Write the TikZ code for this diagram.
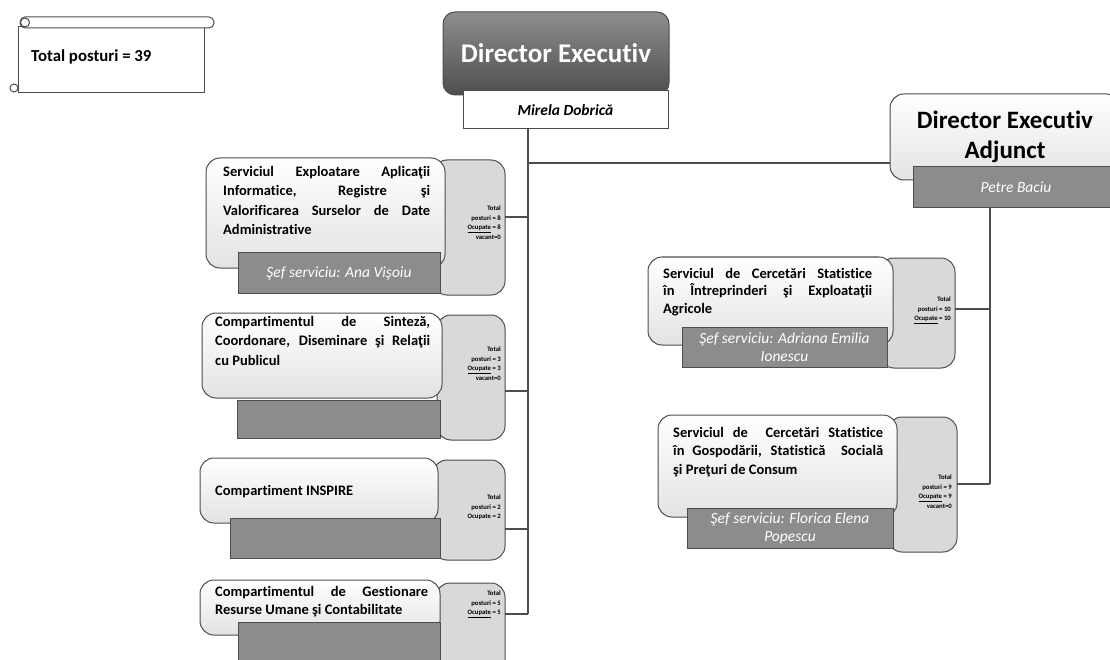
\documentclass[tikz,border=0pt]{standalone}
\usepackage{fontspec}
\setmainfont{Carlito}[Ligatures=NoCommon]
\definecolor{linegray}{HTML}{4D4D4D}
\definecolor{sidegray}{HTML}{D9D9D9}
\definecolor{bargray}{HTML}{8C8C8C}
\definecolor{boxfoot}{HTML}{E3E3E3}
\definecolor{dirtop}{HTML}{8E8E8E}
\definecolor{dirfoot}{HTML}{4E4E4E}
\tikzset{x=1pt, y=-1pt, % one unit is one pixel, y goes down
	conn/.style={draw=linegray, line width=1.6pt}, % the lines of the chart
	wbox/.style={draw=linegray, line width=1pt, rounded corners=14pt, top color=white, bottom color=boxfoot, inner sep=0pt, outer sep=0pt, anchor=north west},
	side/.style={draw=linegray, line width=1pt, fill=sidegray, rounded corners=14pt, inner sep=0pt, outer sep=0pt, anchor=north west},
	bar/.style={draw=linegray, line width=1pt, fill=bargray, inner sep=0pt, outer sep=0pt, anchor=north west, text=white, align=center, font=\fontsize{15.5}{18}\selectfont\itshape},
	stext/.style={font=\fontsize{14.5}{19.5}\selectfont\bfseries, align=left, inner sep=0pt, anchor=north west},
	ptext/.style={font=\fontsize{6.7}{9.5}\selectfont\bfseries, align=right, inner sep=0pt, anchor=north east},
%	scroll of the total
	scroll/.style={draw=linegray, line width=1pt},
}
\begin{document}
\begin{tikzpicture}
	\clip (0,0) rectangle (1110,660);
	%% Total posturi, in a scroll
	\draw[scroll, fill=white] (18,27) rectangle (204,93);
	\draw[scroll, fill=white, rounded corners=5pt] (20,17) rectangle (214,28);
	\draw[scroll] (25,22.5) circle (4.5pt);
	\draw[scroll, fill=white] (14,88) circle (4pt);
	\node[anchor=west, inner sep=0pt, font=\fontsize{16.8}{20}\selectfont\bfseries] (total) at (31,57) {Total posturi = 39};

	%% Director Executiv
	\node[draw=linegray, line width=1pt, rounded corners=12pt, top color=dirtop, bottom color=dirfoot, minimum width=226pt, minimum height=83pt, outer sep=0pt, text=white, font=\fontsize{27}{32}\selectfont\bfseries] (de) at (556,53.5) {Director Executiv};
	\node[draw=linegray, line width=1pt, fill=white, minimum width=205pt, minimum height=38pt, outer sep=0pt, font=\fontsize{15.5}{18}\selectfont\bfseries\itshape] (den) at (565.5,110) {Mirela Dobrică};

	%% Director Executiv Adjunct
	\node[wbox, minimum width=230pt, minimum height=86pt, align=center, font=\fontsize{25}{30}\selectfont\bfseries] (dea) at (890,94) {Director Executiv\\Adjunct};
	\node[bar, minimum width=206pt, minimum height=41pt] (dean) at (913,167) {Petre Baciu};

	%% Left column: services under the Director
	\node[side, minimum width=72pt, minimum height=135pt] (p1) at (433,160) {};
	\node[wbox, minimum width=239pt, minimum height=110pt] (s1) at (206,158) {};
	\node[bar, minimum width=202pt, minimum height=40pt] (b1) at (238,253) {Şef serviciu: Ana Vişoiu};
	\node[stext] (s1t) at (223,166) {\makebox[207pt][s]{Serviciul Exploatare Aplicaţii}\\\makebox[207pt][s]{Informatice, Registre şi}\\\makebox[207pt][s]{Valorificarea Surselor de Date}\\Administrative};
	\node[ptext] (p1t) at (501,206) {Total\\posturi = 8\\\underline{Ocupate} = 8\\vacant=0};

	\node[side, minimum width=68pt, minimum height=125pt] (p2) at (437,315) {};
	\node[wbox, minimum width=240pt, minimum height=85pt] (s2) at (202,313) {};
	\node[bar, minimum width=203pt, minimum height=38pt] (b2) at (237,400) {};
	\node[stext] (s2t) at (215,316) {\makebox[215pt][s]{Compartimentul de Sinteză,}\\\makebox[215pt][s]{Coordonare, Diseminare şi Relaţii}\\cu Publicul};
	\node[ptext] (p2t) at (501,347) {Total\\posturi = 3\\\underline{Ocupate} = 3\\vacant=0};

	\node[side, minimum width=72pt, minimum height=100pt] (p3) at (433,460) {};
	\node[wbox, minimum width=238pt, minimum height=65pt] (s3) at (200,458) {};
	\node[bar, minimum width=210pt, minimum height=40pt] (b3) at (230,518) {};
	\node[stext, anchor=west] (s3t) at (215,492) {Compartiment INSPIRE};
	\node[ptext] (p3t) at (501,495) {Total\\posturi = 2\\Ocupate = 2};

	\node[side, minimum width=69pt, minimum height=92pt] (p4) at (436,583) {};
	\node[wbox, minimum width=240pt, minimum height=55pt] (s4) at (200,580) {};
	\node[bar, minimum width=202pt, minimum height=50pt] (b4) at (238,622) {};
	\node[stext, font=\fontsize{14.5}{18}\selectfont\bfseries] (s4t) at (215,586) {\makebox[213pt][s]{Compartimentul de Gestionare}\\Resurse Umane şi Contabilitate};
	\node[ptext] (p4t) at (501,591) {Total\\posturi = 5\\\underline{Ocupate} = 5};

	%% Right column: services under the Adjunct
	\node[side, minimum width=75pt, minimum height=110pt] (p5) at (880,258) {};
	\node[wbox, minimum width=245pt, minimum height=88pt] (s5) at (648,257) {};
	\node[bar, minimum width=205pt, minimum height=40pt] (b5) at (682,327) {Şef serviciu: Adriana Emilia\\Ionescu};
	\node[stext, font=\fontsize{14.5}{17.5}\selectfont\bfseries] (s5t) at (663,268) {\makebox[209pt][s]{Serviciul de Cercetări Statistice}\\\makebox[209pt][s]{în Întreprinderi şi Exploataţii}\\Agricole};
	\node[ptext] (p5t) at (951,297) {Total\\posturi = 10\\\underline{Ocupate} = 10};

	\node[side, minimum width=69pt, minimum height=135pt] (p6) at (888,417) {};
	\node[wbox, minimum width=239pt, minimum height=102pt] (s6) at (658,415) {};
	\node[bar, minimum width=206pt, minimum height=40pt] (b6) at (687,508) {Şef serviciu: Florica Elena\\Popescu};
	\node[stext, font=\fontsize{14.5}{18.5}\selectfont\bfseries] (s6t) at (673,427) {\makebox[210pt][s]{Serviciul de~ Cercetări Statistice}\\\makebox[210pt][s]{în Gospodării, Statistică~ Socială}\\şi Preţuri de Consum};
	\node[ptext] (p6t) at (952,475) {Total\\posturi = 9\\\underline{Ocupate} = 9\\vacant=0};

	%% Connectors
	\coordinate (j0) at (528,163);
	\coordinate (j1) at (528,217);
	\coordinate (j2) at (528,391);
	\coordinate (j3) at (528,529);
	\coordinate (j4) at (528,614);
	\coordinate (k1) at (990,309);
	\coordinate (k2) at (990,484);
	\draw[conn] (den.south -| j0) -- (j4);
	\draw[conn] (j0) -- (dea.west |- j0);
	\draw[conn] (p1.east |- j1) -- (j1);
	\draw[conn] (p2.east |- j2) -- (j2);
	\draw[conn] (p3.east |- j3) -- (j3);
	\draw[conn] (p4.east |- j4) -- (j4);
	\draw[conn] (dean.south -| k1) -- (k2);
	\draw[conn] (p5.east |- k1) -- (k1);
	\draw[conn] (p6.east |- k2) -- (k2);
\end{tikzpicture}
\end{document}
